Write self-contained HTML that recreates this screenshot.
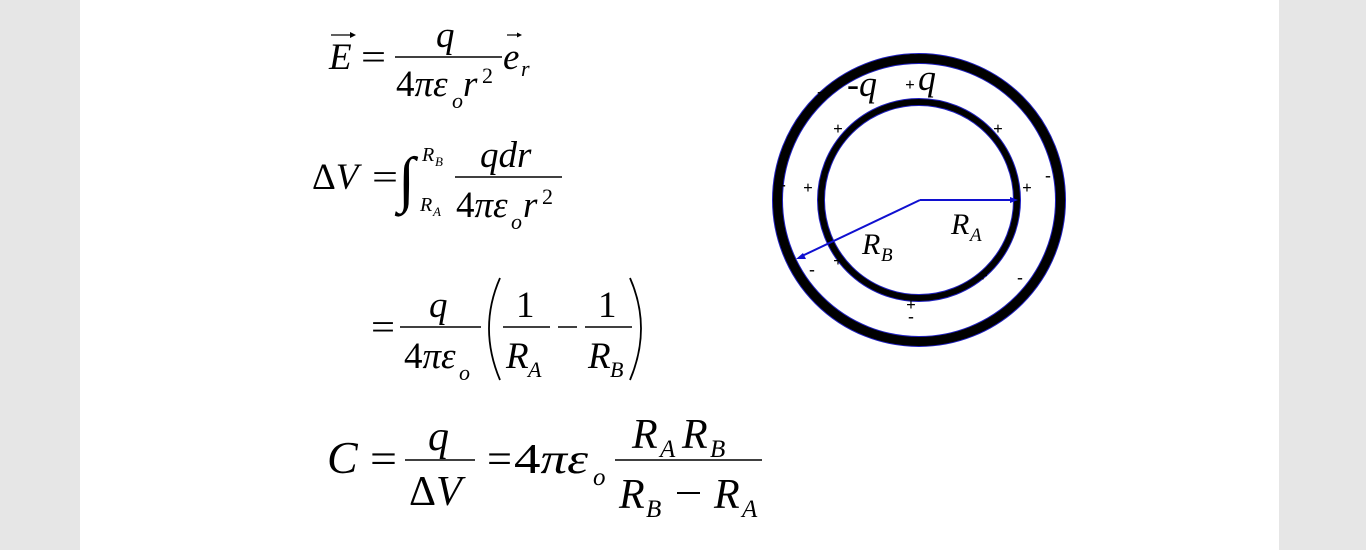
<!DOCTYPE html>
<html><head><meta charset="utf-8"><style>
html,body{margin:0;padding:0;background:#e6e6e6;}
.page{position:absolute;left:80px;top:0;width:1199px;height:550px;background:#fff;}
svg{position:absolute;left:0;top:0;}
text{font-family:"Liberation Serif",serif;fill:#000;}
.i{font-style:italic;}
.s{fill:#1a1aa0;font-family:"Liberation Sans",sans-serif;font-size:17px;font-weight:bold;}
</style></head><body>
<div class="page"></div>
<svg width="1366" height="550" viewBox="0 0 1366 550">
<!-- Eq1 -->
<text x="329" y="69" font-size="37" class="i">E</text>
<line x1="331" y1="35" x2="354" y2="35" stroke="#000" stroke-width="1.3"/><path d="M350,32 L356,35 L350,38Z"/>
<text x="361" y="69" font-size="37" textLength="25" lengthAdjust="spacingAndGlyphs">=</text>
<line x1="395" y1="57" x2="502" y2="57" stroke="#000" stroke-width="1.5"/>
<text x="436" y="47" font-size="37" class="i">q</text>
<text x="396" y="96" font-size="37">4<tspan class="i">πε</tspan></text>
<text x="452" y="108" font-size="22" class="i">o</text>
<text x="463" y="96" font-size="37" class="i">r</text>
<text x="482" y="83" font-size="22">2</text>
<text x="503" y="69" font-size="37" class="i">e</text>
<text x="521" y="76" font-size="22" class="i">r</text>
<line x1="507" y1="35" x2="520" y2="35" stroke="#000" stroke-width="1.2"/><path d="M517,32.5 L522,35 L517,37.5Z"/>
<!-- Eq2 -->
<text x="312" y="189" font-size="37">Δ<tspan class="i">V</tspan></text>
<text x="372" y="189" font-size="37" textLength="26" lengthAdjust="spacingAndGlyphs">=</text>
<text x="398" y="200" font-size="62">∫</text>
<text x="422" y="161" font-size="20" class="i">R</text><text x="435" y="166" font-size="13" class="i">B</text>
<text x="420" y="211" font-size="20" class="i">R</text><text x="433" y="216" font-size="13" class="i">A</text>
<line x1="455" y1="177" x2="562" y2="177" stroke="#000" stroke-width="1.5"/>
<text x="480" y="167" font-size="37" class="i">qdr</text>
<text x="456" y="217" font-size="37">4<tspan class="i">πε</tspan></text>
<text x="511" y="229" font-size="22" class="i">o</text>
<text x="523" y="217" font-size="37" class="i">r</text>
<text x="542" y="204" font-size="22">2</text>
<!-- Eq3 -->
<text x="371" y="339" font-size="37" textLength="24" lengthAdjust="spacingAndGlyphs">=</text>
<line x1="400" y1="327" x2="481" y2="327" stroke="#000" stroke-width="1.5"/>
<text x="429" y="317" font-size="37" class="i">q</text>
<text x="404" y="368" font-size="37">4<tspan class="i">πε</tspan></text>
<text x="459" y="380" font-size="22" class="i">o</text>
<path d="M500,278 Q478,328 500,380" fill="none" stroke="#000" stroke-width="1.8"/>
<path d="M630,278 Q652,328 630,380" fill="none" stroke="#000" stroke-width="1.8"/>
<line x1="503" y1="327" x2="550" y2="327" stroke="#000" stroke-width="1.5"/>
<text x="516" y="317" font-size="37">1</text>
<text x="506" y="368" font-size="37" class="i">R</text><text x="528" y="377" font-size="22" class="i">A</text>
<line x1="558" y1="327" x2="577" y2="327" stroke="#000" stroke-width="1.5"/>
<line x1="585" y1="327" x2="632" y2="327" stroke="#000" stroke-width="1.5"/>
<text x="598" y="317" font-size="37">1</text>
<text x="588" y="368" font-size="37" class="i">R</text><text x="610" y="377" font-size="22" class="i">B</text>
<!-- Eq4 -->
<text x="327" y="473" font-size="46" class="i">C</text>
<text x="370" y="473" font-size="42" textLength="27" lengthAdjust="spacingAndGlyphs">=</text>
<line x1="405" y1="460" x2="475" y2="460" stroke="#000" stroke-width="1.6"/>
<text x="428" y="450" font-size="42" class="i">q</text>
<text x="409" y="505" font-size="42">Δ<tspan class="i">V</tspan></text>
<text x="487" y="473" font-size="42" textLength="25" lengthAdjust="spacingAndGlyphs">=</text>
<text x="514" y="473" font-size="42" textLength="74" lengthAdjust="spacingAndGlyphs">4<tspan class="i">πε</tspan></text>
<text x="593" y="485" font-size="25" class="i">o</text>
<line x1="615" y1="460" x2="762" y2="460" stroke="#000" stroke-width="1.6"/>
<text x="632" y="448" font-size="42" class="i">R</text><text x="660" y="457" font-size="25" class="i">A</text>
<text x="682" y="448" font-size="42" class="i">R</text><text x="710" y="457" font-size="25" class="i">B</text>
<text x="619" y="508" font-size="42" class="i">R</text><text x="646" y="517" font-size="25" class="i">B</text>
<line x1="677" y1="493" x2="700" y2="493" stroke="#000" stroke-width="2"/>
<text x="714" y="508" font-size="42" class="i">R</text><text x="742" y="517" font-size="25" class="i">A</text>
<!-- Circles -->
<circle cx="919" cy="200" r="141.5" fill="none" stroke="#000" stroke-width="10"/>
<circle cx="919" cy="200" r="146.5" fill="none" stroke="#2020c0" stroke-width="1"/>
<circle cx="919" cy="200" r="136.5" fill="none" stroke="#2020c0" stroke-width="1"/>
<circle cx="919" cy="200" r="98" fill="none" stroke="#000" stroke-width="7"/>
<circle cx="919" cy="200" r="101.5" fill="none" stroke="#2020c0" stroke-width="1"/>
<circle cx="919" cy="200" r="94.5" fill="none" stroke="#2020c0" stroke-width="1"/>
<line x1="920" y1="200" x2="1012" y2="200" stroke="#1010d0" stroke-width="2"/>
<path d="M1010,197 L1018,200 L1010,203Z" fill="#1010d0"/>
<line x1="920" y1="200" x2="802" y2="256" stroke="#1010d0" stroke-width="2"/>
<path d="M796,259 L803,253 L806,259Z" fill="#1010d0"/>
<text x="951" y="234" font-size="30" class="i">R</text><text x="970" y="241" font-size="19" class="i">A</text>
<text x="862" y="254" font-size="30" class="i">R</text><text x="881" y="261" font-size="19" class="i">B</text>
<text x="847" y="96" font-size="36" class="i">-q</text>
<text x="918" y="90" font-size="36" class="i">q</text>
<g class="s" text-anchor="middle">
<text x="912" y="59">-</text><text x="820" y="97">-</text><text x="1012" y="96">-</text>
<text x="783" y="190">-</text><text x="1048" y="181">-</text><text x="812" y="275">-</text>
<text x="1020" y="283">-</text><text x="911" y="322">-</text>
<text x="910" y="90">+</text><text x="838" y="134">+</text><text x="998" y="134">+</text>
<text x="808" y="193">+</text><text x="1027" y="193">+</text><text x="838" y="266">+</text>
<text x="983" y="281">+</text><text x="911" y="310">+</text>
</g>
</svg>
</body></html>
